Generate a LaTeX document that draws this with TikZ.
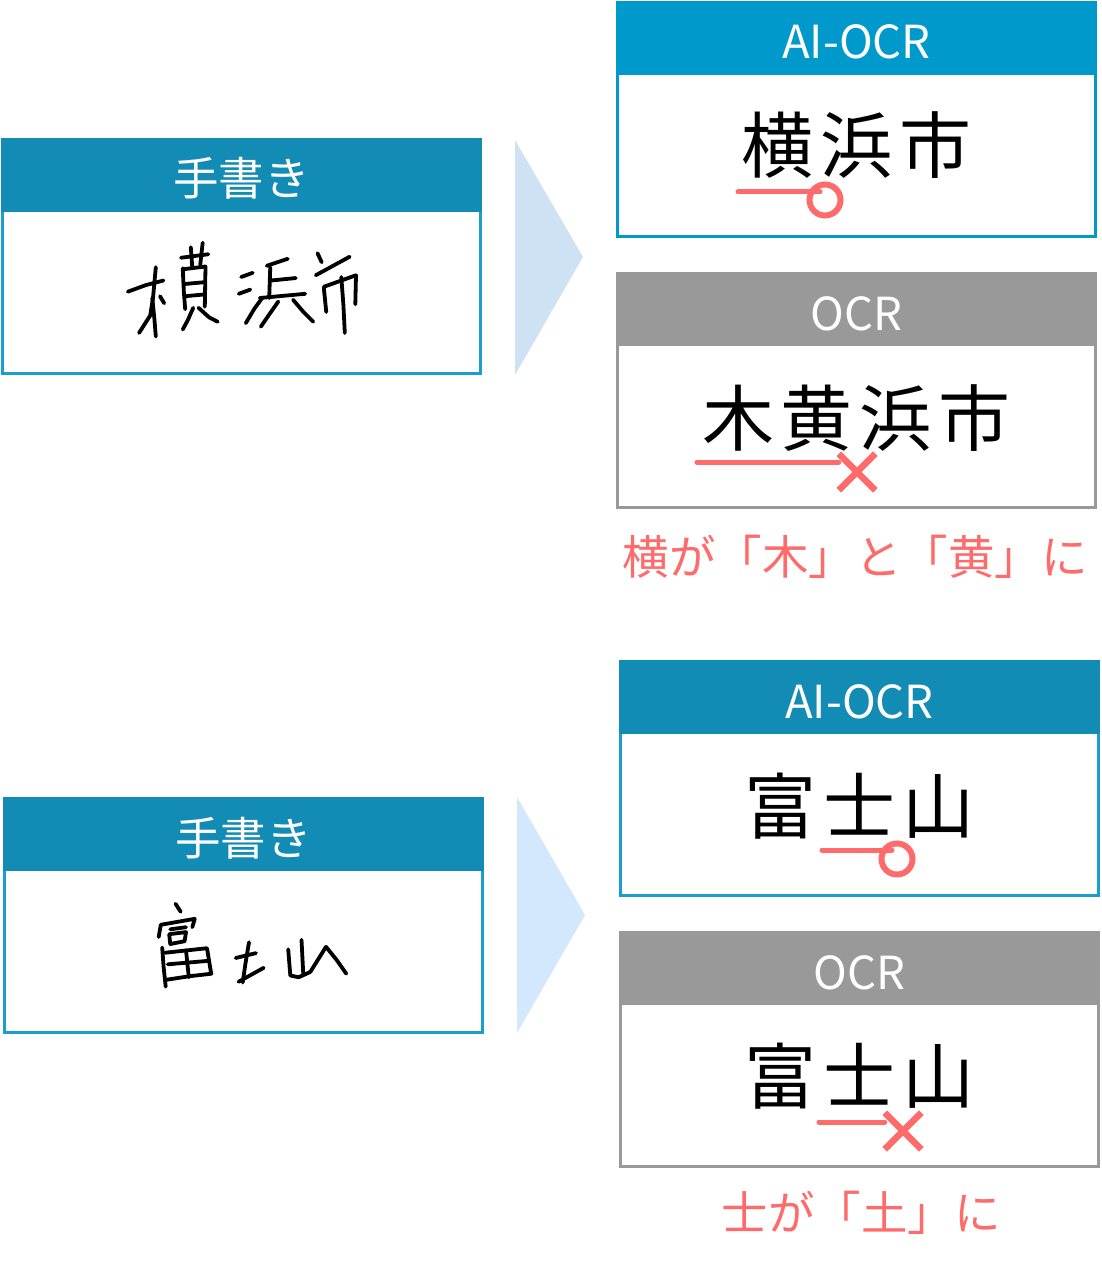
\documentclass[tikz,border=0pt]{standalone}
\usepackage{fontspec}
\usetikzlibrary{shapes.misc}
\newfontfamily\jpfont{Noto Sans CJK JP}

\definecolor{hwblue}{HTML}{138CB5}
\definecolor{hwline}{HTML}{1A9ED0}
\definecolor{aiblue}{HTML}{0099CC}
\definecolor{ocrgray}{HTML}{999999}
\definecolor{ngred}{HTML}{FF6A6A}
\definecolor{chevA}{HTML}{CFE2F3}
\definecolor{chevB}{HTML}{D3E8FC}

\tikzset{
  panel/.style={draw=#1, line width=3pt, fill=white, minimum width=478pt, minimum height=234pt, inner sep=0pt},
  headbar/.style={fill=#1, text=white, font=\jpfont\fontsize{45.5}{45.5}\selectfont,
    minimum width=481pt, minimum height=74pt, inner sep=0pt, text height=44pt, text depth=2pt},
  bigword/.style={font=\jpfont\fontsize{72}{72}\selectfont, inner sep=0pt, anchor=base},
  note/.style={text=ngred, font=\jpfont\fontsize{46.5}{46.5}\selectfont, inner sep=0pt, anchor=base},
  hand/.style={line width=3.8pt, line cap=round, line join=round},
  redline/.style={draw=ngred, line width=5pt, line cap=round},
  okring/.style={circle, draw=ngred, line width=6pt, minimum size=31pt, inner sep=0pt},
  ngmark/.style={cross out, draw=ngred, line width=6.5pt, minimum size=30pt, inner sep=0pt},
}
\newcommand{\gap}{\hspace{7pt}}

\begin{document}
\begin{tikzpicture}[x=1pt, y=-1pt]
  \useasboundingbox (0,0) rectangle (1101,1281);

  % ---- Yokohama ----
  \node[panel=hwline] (hwA) at (241.5,256.5) {};
  \node[headbar=hwblue] (hwAhead) at (241.5,175) {手書き};
  \begin{scope}[shift={(111,228)}, scale=0.35]
    \draw[hand] (48,182) -- (100,163) -- (150,150);
    \draw[hand] (128,112) -- (120,200) -- (112,250) -- (80,300);
    \draw[hand] (118,200) -- (124,260) -- (128,310);
    \draw[hand] (140,195) -- (152,215);
    \draw[hand] (200,85) -- (278,75);
    \draw[hand] (228,55) -- (232,110);
    \draw[hand] (262,42) -- (255,105);
    \draw[hand] (205,115) -- (208,180) -- (212,232);
    \draw[hand] (205,118) -- (270,110) -- (268,225);
    \draw[hand] (210,160) -- (265,155);
    \draw[hand] (210,195) -- (265,190);
    \draw[hand] (235,228) -- (220,262) -- (205,290);
    \draw[hand] (250,228) -- (280,255) -- (305,268);
    \draw[hand] (372,140) -- (405,128);
    \draw[hand] (365,188) -- (398,176);
    \draw[hand] (385,272) -- (410,230) -- (432,200);
    \draw[hand] (445,108) -- (505,88);
    \draw[hand] (455,112) -- (452,200);
    \draw[hand] (458,150) -- (528,143);
    \draw[hand] (425,200) -- (555,188);
    \draw[hand] (478,210) -- (450,250) -- (428,282);
    \draw[hand] (520,205) -- (550,240) -- (578,268);
    \draw[hand] (590,72) -- (602,98);
    \draw[hand] (585,135) -- (682,82);
    \draw[hand] (608,170) -- (615,240);
    \draw[hand] (608,168) -- (700,135) -- (698,218);
    \draw[hand] (658,140) -- (664,220) -- (668,300);
  \end{scope}

  \fill[chevA] (515,140) -- (583,257) -- (515,375) -- cycle;

  \node[panel=aiblue] (aiA) at (856.5,119.5) {};
  \node[headbar=aiblue] (aiAhead) at (856.5,38) {AI-OCR};
  \node[bigword] (aiAword) at (856.5,173) {横\gap 浜\gap 市};
  \coordinate (okAline) at (738,192);
  \draw[redline] (okAline) -- (okAline -| 820,0);
  \node[okring] (okA) at (825,200) {};

  \node[panel=ocrgray] (ocrA) at (856.5,390) {};
  \node[headbar=ocrgray] (ocrAhead) at (856.5,309) {OCR};
  \node[bigword] (ocrAword) at (856.5,445) {木\gap 黄\gap 浜\gap 市};
  \node[ngmark] (ngA) at (857,472) {};
  \coordinate (ngAline) at (697,462);
  \draw[redline] (ngAline) -- (ngAline -| ngA.north west);

  \node[note] (noteA) at (855,574) {横が「木」と「黄」に};

  % ---- Fujisan ----
  \node[panel=hwline] (hwB) at (243.5,915.5) {};
  \node[headbar=hwblue] (hwBhead) at (243.5,834) {手書き};
  \begin{scope}[shift={(137,888)}, scale=0.35]
    \draw[hand] (110,45) -- (125,68);
    \draw[hand] (62,140) -- (68,105) -- (120,96) -- (165,88) -- (158,112);
    \draw[hand] (95,118) -- (140,112);
    \draw[hand] (92,132) -- (140,126) -- (136,152) -- (95,160) -- cycle;
    \draw[hand] (72,170) -- (76,225) -- (82,282);
    \draw[hand] (80,185) -- (200,172) -- (212,245) -- (150,252) -- (85,262);
    \draw[hand] (88,218) -- (205,208);
    \draw[hand] (140,178) -- (148,255);
    \draw[hand] (282,200) -- (340,186);
    \draw[hand] (320,155) -- (310,215) -- (302,270);
    \draw[hand] (290,268) -- (362,228);
    \draw[hand] (432,175) -- (438,250) -- (462,255) -- (495,240);
    \draw[hand] (470,148) -- (475,245);
    \draw[hand] (495,240) -- (540,168) -- (570,205) -- (598,245);
  \end{scope}

  \fill[chevB] (517,797) -- (585,915) -- (517,1033) -- cycle;

  \node[panel=hwline] (aiB) at (859.5,778.5) {};
  \node[headbar=hwblue] (aiBhead) at (859.5,697) {AI-OCR};
  \node[bigword] (aiBword) at (859.5,833) {富\gap 士\gap 山};
  \coordinate (okBline) at (822,850);
  \draw[redline] (okBline) -- (okBline -| 892,0);
  \node[okring] (okB) at (897,859) {};

  \node[panel=ocrgray] (ocrB) at (859.5,1049) {};
  \node[headbar=ocrgray] (ocrBhead) at (859.5,968) {OCR};
  \node[bigword] (ocrBword) at (859.5,1103) {富\gap 士\gap 山};
  \node[ngmark] (ngB) at (903,1131) {};
  \coordinate (ngBline) at (819,1122);
  \draw[redline] (ngBline) -- (ngBline -| ngB.north west);

  \node[note] (noteB) at (861,1230) {士が「土」に};
\end{tikzpicture}
\end{document}
